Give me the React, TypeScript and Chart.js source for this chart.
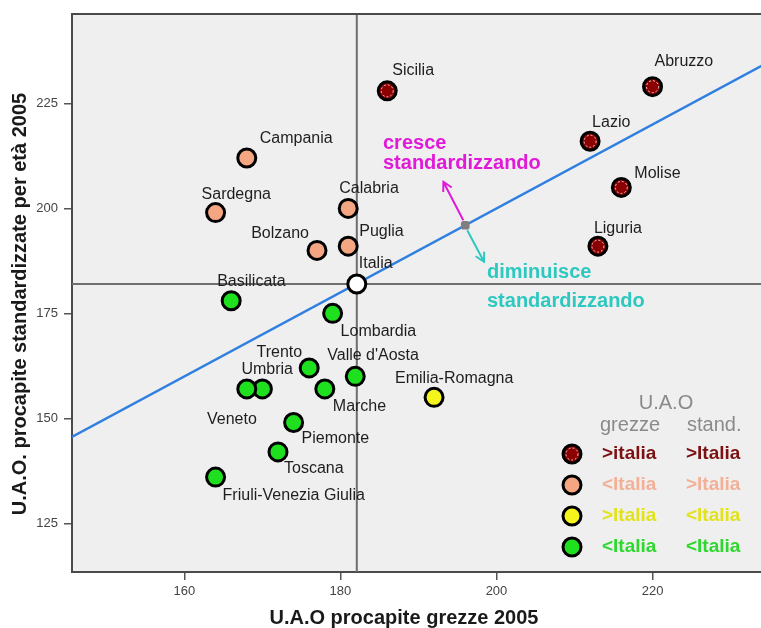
import { useEffect, useRef } from 'react';
import { Chart, registerables } from 'chart.js';
import type { Chart as ChartType, Plugin } from 'chart.js';

Chart.register(...registerables);

// values
const regions = [
  'Sicilia', 'Abruzzo', 'Lazio', 'Molise', 'Liguria', 'Campania', 'Sardegna',
  'Calabria', 'Bolzano', 'Puglia', 'Basilicata', 'Lombardia', 'Trento',
  "Valle d'Aosta", 'Umbria', 'Veneto', 'Marche', 'Piemonte', 'Toscana',
  'Friuli-Venezia Giulia', 'Emilia-Romagna',
];
const grezze = [186, 220, 212, 216, 213, 168, 164, 181, 177, 181, 166, 179, 176, 181.9, 170, 168, 178, 174, 172, 164, 192];
const standardizzate = [228, 229, 216, 205, 191, 212, 199, 200, 190, 191, 178, 175, 162, 160, 157, 157, 157, 149, 142, 136, 155];

const italiaName = 'Italia';
const italiaGrezze = 182.1;
const italiaStandard = 182;

const xTicks = [160, 180, 200, 220];
const yTicks = [125, 150, 175, 200, 225];
const xRange = [145.6, 233.9];
const yRange = [113.4, 246.3];

// y = x line and the marker on it
const bisector = [140, 240];
const midPoint = [196, 196];
const arrowUp = [193.2, 206.3];
const arrowDown = [198.4, 187.3];

const groupColors = ['#8b0000', '#f4a582', '#f5f51e', '#1ee01e'];
const groupTextColors = ['#7b1113', '#f3b097', '#e2e21a', '#2ed82e'];
const legendLabels = [
  ['>italia', '>Italia'],
  ['<Italia', '>Italia'],
  ['>Italia', '<Italia'],
  ['<Italia', '<Italia'],
];

// label placement, pixels from the point: dx, dy, align
const labelOffsets: Record<string, [number, number, CanvasTextAlign]> = {
  Sicilia: [5, -20, 'left'],
  Abruzzo: [2, -25, 'left'],
  Lazio: [2, -19, 'left'],
  Molise: [13, -14, 'left'],
  Liguria: [-4, -18, 'left'],
  Campania: [13, -19, 'left'],
  Sardegna: [-14, -18, 'left'],
  Calabria: [-9, -20, 'left'],
  Bolzano: [-8, -17, 'right'],
  Puglia: [11, -15, 'left'],
  Italia: [2, -20, 'left'],
  Basilicata: [-14, -19, 'left'],
  Lombardia: [8, 18, 'left'],
  Trento: [-7, -15, 'right'],
  "Valle d'Aosta": [-28, -21, 'left'],
  Umbria: [-21, -19, 'left'],
  Veneto: [10, 31, 'right'],
  Marche: [8, 18, 'left'],
  Piemonte: [8, 16, 'left'],
  Toscana: [6, 17, 'left'],
  'Friuli-Venezia Giulia': [7, 18, 'left'],
  'Emilia-Romagna': [-39, -19, 'left'],
};

const groupOf = (i: number) => {
  const hiX = grezze[i] > italiaGrezze;
  const hiY = standardizzate[i] > italiaStandard;
  if (hiX && hiY) return 0;
  if (!hiX && hiY) return 1;
  if (hiX && !hiY) return 2;
  return 3;
};

const FONT = '"Liberation Sans", Arial, sans-serif';

function dashedRing(ctx: CanvasRenderingContext2D, x: number, y: number) {
  ctx.save();
  ctx.strokeStyle = '#f2c8c8';
  ctx.lineWidth = 1;
  ctx.setLineDash([2, 2]);
  ctx.beginPath();
  ctx.arc(x, y, 6, 0, Math.PI * 2);
  ctx.stroke();
  ctx.restore();
}

function marker(ctx: CanvasRenderingContext2D, x: number, y: number, fill: string) {
  ctx.save();
  ctx.fillStyle = fill;
  ctx.strokeStyle = '#000';
  ctx.lineWidth = 3;
  ctx.beginPath();
  ctx.arc(x, y, 9, 0, Math.PI * 2);
  ctx.fill();
  ctx.stroke();
  ctx.restore();
}

function arrow(ctx: CanvasRenderingContext2D, x0: number, y0: number, x1: number, y1: number, color: string) {
  const a = Math.atan2(y1 - y0, x1 - x0);
  ctx.save();
  ctx.strokeStyle = color;
  ctx.lineWidth = 2;
  ctx.beginPath();
  ctx.moveTo(x0, y0);
  ctx.lineTo(x1, y1);
  ctx.moveTo(x1 - 10 * Math.cos(a - 0.5), y1 - 10 * Math.sin(a - 0.5));
  ctx.lineTo(x1, y1);
  ctx.lineTo(x1 - 10 * Math.cos(a + 0.5), y1 - 10 * Math.sin(a + 0.5));
  ctx.stroke();
  ctx.restore();
}

const overlay: Plugin<'scatter'> = {
  id: 'overlay',
  beforeDraw(chart) {
    const { ctx, chartArea: a } = chart;
    ctx.save();
    ctx.fillStyle = '#efefef';
    ctx.fillRect(a.left, a.top, a.right - a.left, a.bottom - a.top);
    ctx.restore();
  },
  beforeDatasetsDraw(chart) {
    const { ctx, chartArea: a, scales } = chart;
    const px = scales.x.getPixelForValue(italiaGrezze);
    const py = scales.y.getPixelForValue(italiaStandard);
    ctx.save();
    ctx.strokeStyle = '#6e6e6e';
    ctx.lineWidth = 2;
    ctx.beginPath();
    ctx.moveTo(px, a.top);
    ctx.lineTo(px, a.bottom);
    ctx.moveTo(a.left, py);
    ctx.lineTo(a.right, py);
    ctx.stroke();
    ctx.strokeStyle = '#4a4a4a';
    ctx.lineWidth = 2;
    ctx.beginPath();
    ctx.moveTo(a.left, a.top);
    ctx.lineTo(a.right, a.top);
    ctx.stroke();
    ctx.restore();
  },
  afterDatasetsDraw(chart) {
    const { ctx, scales } = chart;
    const sx = (v: number) => scales.x.getPixelForValue(v);
    const sy = (v: number) => scales.y.getPixelForValue(v);

    // arrows from the mark on the bisector
    const mx = sx(midPoint[0]);
    const my = sy(midPoint[1]);
    arrow(ctx, mx - 2, my - 5, sx(arrowUp[0]), sy(arrowUp[1]), '#e01ad8');
    arrow(ctx, mx + 2, my + 5, sx(arrowDown[0]), sy(arrowDown[1]), '#2ec8c0');

    // point labels
    ctx.save();
    ctx.font = `16px ${FONT}`;
    ctx.fillStyle = '#1e1e1e';
    ctx.textBaseline = 'middle';
    regions.forEach((r, i) => {
      const x = sx(grezze[i]);
      const y = sy(standardizzate[i]);
      if (groupOf(i) === 0) dashedRing(ctx, x, y);
      const [dx, dy, align] = labelOffsets[r];
      ctx.textAlign = align;
      ctx.fillText(r, x + dx, y + dy);
    });
    const [idx, idy] = labelOffsets[italiaName];
    ctx.textAlign = 'left';
    ctx.fillText(italiaName, sx(italiaGrezze) + idx, sy(italiaStandard) + idy);

    // notes
    ctx.font = `bold 20px ${FONT}`;
    ctx.fillStyle = '#e01ad8';
    ctx.fillText('cresce', 383, 143);
    ctx.fillText('standardizzando', 383, 163);
    ctx.fillStyle = '#2ec8c0';
    ctx.fillText('diminuisce', 487, 272);
    ctx.fillText('standardizzando', 487, 301);

    // legend
    ctx.font = `20px ${FONT}`;
    ctx.fillStyle = '#8a8a8a';
    ctx.textAlign = 'center';
    ctx.fillText('U.A.O', 666, 403);
    ctx.textAlign = 'left';
    ctx.fillText('grezze', 600, 425);
    ctx.fillText('stand.', 687, 425);
    const rows = [454, 485, 516, 547];
    ctx.font = `bold 19px ${FONT}`;
    legendLabels.forEach((pair, g) => {
      marker(ctx, 572, rows[g], groupColors[g]);
      if (g === 0) dashedRing(ctx, 572, rows[g]);
      ctx.fillStyle = groupTextColors[g];
      ctx.fillText(pair[0], 602, rows[g]);
      ctx.fillText(pair[1], 686, rows[g]);
    });
    ctx.restore();
  },
  afterDraw(chart) {
    const { ctx } = chart;
    ctx.save();
    ctx.font = `bold 20px ${FONT}`;
    ctx.fillStyle = '#1a1a1a';
    ctx.textAlign = 'center';
    ctx.textBaseline = 'middle';
    ctx.fillText('U.A.O procapite grezze 2005', 404, 618);
    ctx.translate(20, 304);
    ctx.rotate(-Math.PI / 2);
    ctx.fillText('U.A.O. procapite standardizzate per età 2005', 0, 0);
    ctx.restore();
  },
};

export default function App() {
  const canvasRef = useRef<HTMLCanvasElement>(null);
  const chartRef = useRef<ChartType | null>(null);

  useEffect(() => {
    document.body.style.margin = '0';
    document.documentElement.style.overflow = 'hidden';
    if (!canvasRef.current) return;
    if (chartRef.current) chartRef.current.destroy();

    chartRef.current = new Chart(canvasRef.current, {
      type: 'scatter',
      data: {
        datasets: [
          {
            data: regions.map((_, i) => ({ x: grezze[i], y: standardizzate[i] })),
            backgroundColor: regions.map((_, i) => groupColors[groupOf(i)]),
            borderColor: '#000',
            borderWidth: 3,
            pointRadius: 9,
            order: 1,
          },
          {
            data: [{ x: italiaGrezze, y: italiaStandard }],
            backgroundColor: '#fff',
            borderColor: '#000',
            borderWidth: 3,
            pointRadius: 9,
            order: 1,
          },
          {
            data: [{ x: midPoint[0], y: midPoint[1] }],
            backgroundColor: '#7f7f7f',
            borderWidth: 0,
            pointRadius: 5,
            pointStyle: 'rectRounded',
            order: 2,
          },
          {
            data: bisector.map((v) => ({ x: v, y: v })),
            showLine: true,
            borderColor: '#2f7fe0',
            borderWidth: 2.5,
            pointRadius: 0,
            order: 10,
          },
        ],
      },
      options: {
        animation: false,
        responsive: true,
        maintainAspectRatio: false,
        events: [],
        layout: { autoPadding: false, padding: { top: 14, right: 0, left: 0, bottom: 0 } },
        plugins: {
          legend: { display: false },
          tooltip: { enabled: false },
        },
        scales: {
          x: {
            type: 'linear',
            min: xRange[0],
            max: xRange[1],
            afterBuildTicks: (s) => {
              s.ticks = xTicks.map((v) => ({ value: v }));
            },
            afterFit: (s) => {
              s.height = 56;
            },
            grid: { drawOnChartArea: false, tickLength: 8, color: '#555', lineWidth: 1.5 },
            border: { color: '#4a4a4a', width: 2 },
            ticks: { color: '#444', font: { family: FONT, size: 13 }, padding: 4 },
          },
          y: {
            type: 'linear',
            min: yRange[0],
            max: yRange[1],
            afterBuildTicks: (s) => {
              s.ticks = yTicks.map((v) => ({ value: v }));
            },
            afterFit: (s) => {
              s.width = 72;
            },
            grid: { drawOnChartArea: false, tickLength: 8, color: '#555', lineWidth: 1.5 },
            border: { color: '#4a4a4a', width: 2 },
            ticks: { color: '#444', font: { family: FONT, size: 13 }, padding: 6 },
          },
        },
      },
      plugins: [overlay],
    });

    return () => {
      if (chartRef.current) {
        chartRef.current.destroy();
        chartRef.current = null;
      }
    };
  }, []);

  return (
    <div style={{ position: 'fixed', left: 0, top: 0, width: 761, height: 628 }}>
      <canvas ref={canvasRef} />
    </div>
  );
}
